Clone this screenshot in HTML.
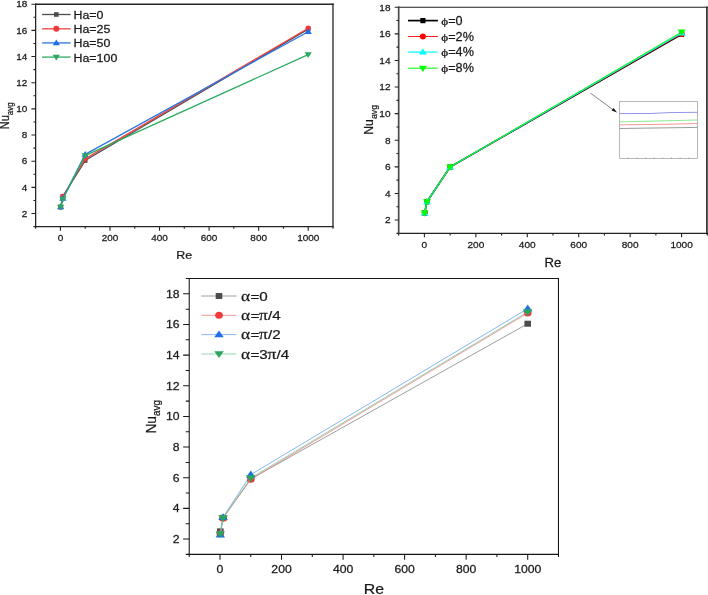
<!DOCTYPE html>
<html lang="en"><head><meta charset="utf-8"><title>Nu avg vs Re</title>
<style>html,body{margin:0;padding:0;background:#fff;}svg{display:block;}text{stroke:#1a1a1a;stroke-width:0.25px;}</style></head><body>
<svg width="708" height="595" viewBox="0 0 708 595">
<rect width="708" height="595" fill="#fff"/>
<g font-family='"Liberation Sans", sans-serif'>
<line x1="35.62" y1="4.23" x2="332.98" y2="4.23" stroke="#242424" stroke-width="1.3" stroke-linecap="square"/>
<line x1="332.98" y1="4.23" x2="332.98" y2="226.59" stroke="#242424" stroke-width="1.3" stroke-linecap="square"/>
<line x1="35.62" y1="226.59" x2="332.98" y2="226.59" stroke="#242424" stroke-width="1.3" stroke-linecap="square"/>
<line x1="35.62" y1="4.23" x2="35.62" y2="226.59" stroke="#242424" stroke-width="1.3" stroke-linecap="square"/>
<path d="M35.62,226.59v2.2M60.40,226.59v4.2M85.18,226.59v2.2M109.96,226.59v4.2M134.74,226.59v2.2M159.52,226.59v4.2M184.30,226.59v2.2M209.08,226.59v4.2M233.86,226.59v2.2M258.64,226.59v4.2M283.42,226.59v2.2M308.20,226.59v4.2M332.98,226.59v2.2M35.62,226.59h-2.2M35.62,213.51h-4.2M35.62,200.43h-2.2M35.62,187.35h-4.2M35.62,174.27h-2.2M35.62,161.19h-4.2M35.62,148.11h-2.2M35.62,135.03h-4.2M35.62,121.95h-2.2M35.62,108.87h-4.2M35.62,95.79h-2.2M35.62,82.71h-4.2M35.62,69.63h-2.2M35.62,56.55h-4.2M35.62,43.47h-2.2M35.62,30.39h-4.2M35.62,17.31h-2.2M35.62,4.23h-4.2" stroke="#242424" stroke-width="1.1" fill="none"/>
<text transform="translate(60.40,241.30) scale(1.06,1)" font-size="9.4" text-anchor="middle" fill="#1a1a1a" >0</text>
<text transform="translate(109.96,241.30) scale(1.06,1)" font-size="9.4" text-anchor="middle" fill="#1a1a1a" >200</text>
<text transform="translate(159.52,241.30) scale(1.06,1)" font-size="9.4" text-anchor="middle" fill="#1a1a1a" >400</text>
<text transform="translate(209.08,241.30) scale(1.06,1)" font-size="9.4" text-anchor="middle" fill="#1a1a1a" >600</text>
<text transform="translate(258.64,241.30) scale(1.06,1)" font-size="9.4" text-anchor="middle" fill="#1a1a1a" >800</text>
<text transform="translate(308.20,241.30) scale(1.06,1)" font-size="9.4" text-anchor="middle" fill="#1a1a1a" >1000</text>
<text transform="translate(27.40,216.71) scale(1.06,1)" font-size="9.4" text-anchor="end" fill="#1a1a1a" >2</text>
<text transform="translate(27.40,190.55) scale(1.06,1)" font-size="9.4" text-anchor="end" fill="#1a1a1a" >4</text>
<text transform="translate(27.40,164.39) scale(1.06,1)" font-size="9.4" text-anchor="end" fill="#1a1a1a" >6</text>
<text transform="translate(27.40,138.23) scale(1.06,1)" font-size="9.4" text-anchor="end" fill="#1a1a1a" >8</text>
<text transform="translate(27.40,112.07) scale(1.06,1)" font-size="9.4" text-anchor="end" fill="#1a1a1a" >10</text>
<text transform="translate(27.40,85.91) scale(1.06,1)" font-size="9.4" text-anchor="end" fill="#1a1a1a" >12</text>
<text transform="translate(27.40,59.75) scale(1.06,1)" font-size="9.4" text-anchor="end" fill="#1a1a1a" >14</text>
<text transform="translate(27.40,33.59) scale(1.06,1)" font-size="9.4" text-anchor="end" fill="#1a1a1a" >16</text>
<text transform="translate(27.40,7.43) scale(1.06,1)" font-size="9.4" text-anchor="end" fill="#1a1a1a" >18</text>
<text transform="translate(184.30,258.90) scale(1.12,1)" font-size="11.1" text-anchor="middle" fill="#1a1a1a" >Re</text>
<text transform="translate(9.10,129.20) scale(1.08,1) rotate(-90)" font-size="11" fill="#1a1a1a" text-anchor="start">Nu<tspan font-size="7.92" dy="3.52">avg</tspan></text>
<polyline points="60.65,206.97 62.88,196.38 85.18,160.54 308.20,29.08" fill="none" stroke="#4d4d4d" stroke-width="1.3" stroke-linejoin="round"/>
<rect x="58.35" y="204.67" width="4.60" height="4.60" fill="#4d4d4d"/>
<rect x="60.58" y="194.08" width="4.60" height="4.60" fill="#4d4d4d"/>
<rect x="82.88" y="158.24" width="4.60" height="4.60" fill="#4d4d4d"/>
<rect x="305.90" y="26.78" width="4.60" height="4.60" fill="#4d4d4d"/>
<polyline points="60.65,206.97 62.88,196.51 85.18,158.84 308.20,28.30" fill="none" stroke="#f0413f" stroke-width="1.3" stroke-linejoin="round"/>
<circle cx="60.65" cy="206.97" r="2.70" fill="#f03a3a"/>
<circle cx="62.88" cy="196.51" r="2.70" fill="#f03a3a"/>
<circle cx="85.18" cy="158.84" r="2.70" fill="#f03a3a"/>
<circle cx="308.20" cy="28.30" r="2.70" fill="#f03a3a"/>
<polyline points="60.65,206.97 62.88,198.47 85.18,154.39 308.20,31.70" fill="none" stroke="#2a76e4" stroke-width="1.3" stroke-linejoin="round"/>
<polygon points="60.65,203.55 64.25,209.25 57.05,209.25" fill="#1f6fe6"/>
<polygon points="62.88,195.05 66.48,200.75 59.28,200.75" fill="#1f6fe6"/>
<polygon points="85.18,150.97 88.78,156.67 81.58,156.67" fill="#1f6fe6"/>
<polygon points="308.20,28.28 311.80,33.98 304.60,33.98" fill="#1f6fe6"/>
<polyline points="60.65,206.97 62.88,199.12 85.18,155.57 308.20,54.59" fill="none" stroke="#2cab62" stroke-width="1.3" stroke-linejoin="round"/>
<polygon points="60.65,210.39 64.25,204.69 57.05,204.69" fill="#2aa860"/>
<polygon points="62.88,202.54 66.48,196.84 59.28,196.84" fill="#2aa860"/>
<polygon points="85.18,158.99 88.78,153.29 81.58,153.29" fill="#2aa860"/>
<polygon points="308.20,58.01 311.80,52.31 304.60,52.31" fill="#2aa860"/>
<line x1="42.1" x2="70.6" y1="14.5" y2="14.5" stroke="#4d4d4d" stroke-width="1.3"/>
<rect x="54.00" y="12.20" width="4.60" height="4.60" fill="#4d4d4d"/>
<text transform="translate(73.50,18.90) scale(1.13,1)" font-size="11.0" text-anchor="start" fill="#1a1a1a" >Ha=0</text>
<line x1="42.1" x2="70.6" y1="28.8" y2="28.8" stroke="#f0413f" stroke-width="1.3"/>
<circle cx="56.30" cy="28.80" r="3.00" fill="#f03a3a"/>
<text transform="translate(73.50,33.20) scale(1.13,1)" font-size="11.0" text-anchor="start" fill="#1a1a1a" >Ha=25</text>
<line x1="42.1" x2="70.6" y1="42.9" y2="42.9" stroke="#2a76e4" stroke-width="1.3"/>
<polygon points="56.30,39.48 59.90,45.18 52.70,45.18" fill="#1f6fe6"/>
<text transform="translate(73.50,47.30) scale(1.13,1)" font-size="11.0" text-anchor="start" fill="#1a1a1a" >Ha=50</text>
<line x1="42.1" x2="70.6" y1="57.1" y2="57.1" stroke="#2cab62" stroke-width="1.3"/>
<polygon points="56.30,60.52 59.90,54.82 52.70,54.82" fill="#2aa860"/>
<text transform="translate(73.50,61.50) scale(1.13,1)" font-size="11.0" text-anchor="start" fill="#1a1a1a" >Ha=100</text>
</g>
<g font-family='"Liberation Sans", sans-serif'>
<line x1="398.68" y1="7.25" x2="707.32" y2="7.25" stroke="#222" stroke-width="1.0" stroke-linecap="square"/>
<line x1="706.92" y1="7.25" x2="706.92" y2="233.35" stroke="#222" stroke-width="1.6" stroke-linecap="square"/>
<line x1="398.68" y1="233.35" x2="707.32" y2="233.35" stroke="#222" stroke-width="1.1" stroke-linecap="square"/>
<line x1="398.68" y1="7.25" x2="398.68" y2="233.35" stroke="#4a4a4a" stroke-width="1.7" stroke-linecap="square"/>
<path d="M398.68,233.35v2.2M424.40,233.35v4M450.12,233.35v2.2M475.84,233.35v4M501.56,233.35v2.2M527.28,233.35v4M553.00,233.35v2.2M578.72,233.35v4M604.44,233.35v2.2M630.16,233.35v4M655.88,233.35v2.2M681.60,233.35v4M707.32,233.35v2.2M398.68,233.35h-2.2M398.68,220.05h-4M398.68,206.75h-2.2M398.68,193.45h-4M398.68,180.15h-2.2M398.68,166.85h-4M398.68,153.55h-2.2M398.68,140.25h-4M398.68,126.95h-2.2M398.68,113.65h-4M398.68,100.35h-2.2M398.68,87.05h-4M398.68,73.75h-2.2M398.68,60.45h-4M398.68,47.15h-2.2M398.68,33.85h-4M398.68,20.55h-2.2M398.68,7.25h-4" stroke="#222" stroke-width="1.1" fill="none"/>
<text transform="translate(424.40,248.30) scale(1.03,1)" font-size="9.8" text-anchor="middle" fill="#1a1a1a" >0</text>
<text transform="translate(475.84,248.30) scale(1.03,1)" font-size="9.8" text-anchor="middle" fill="#1a1a1a" >200</text>
<text transform="translate(527.28,248.30) scale(1.03,1)" font-size="9.8" text-anchor="middle" fill="#1a1a1a" >400</text>
<text transform="translate(578.72,248.30) scale(1.03,1)" font-size="9.8" text-anchor="middle" fill="#1a1a1a" >600</text>
<text transform="translate(630.16,248.30) scale(1.03,1)" font-size="9.8" text-anchor="middle" fill="#1a1a1a" >800</text>
<text transform="translate(681.60,248.30) scale(1.03,1)" font-size="9.8" text-anchor="middle" fill="#1a1a1a" >1000</text>
<text transform="translate(390.50,223.45) scale(1.03,1)" font-size="9.8" text-anchor="end" fill="#1a1a1a" >2</text>
<text transform="translate(390.50,196.85) scale(1.03,1)" font-size="9.8" text-anchor="end" fill="#1a1a1a" >4</text>
<text transform="translate(390.50,170.25) scale(1.03,1)" font-size="9.8" text-anchor="end" fill="#1a1a1a" >6</text>
<text transform="translate(390.50,143.65) scale(1.03,1)" font-size="9.8" text-anchor="end" fill="#1a1a1a" >8</text>
<text transform="translate(390.50,117.05) scale(1.03,1)" font-size="9.8" text-anchor="end" fill="#1a1a1a" >10</text>
<text transform="translate(390.50,90.45) scale(1.03,1)" font-size="9.8" text-anchor="end" fill="#1a1a1a" >12</text>
<text transform="translate(390.50,63.85) scale(1.03,1)" font-size="9.8" text-anchor="end" fill="#1a1a1a" >14</text>
<text transform="translate(390.50,37.25) scale(1.03,1)" font-size="9.8" text-anchor="end" fill="#1a1a1a" >16</text>
<text transform="translate(390.50,10.65) scale(1.03,1)" font-size="9.8" text-anchor="end" fill="#1a1a1a" >18</text>
<text transform="translate(553.00,266.90) scale(1.06,1)" font-size="12.4" text-anchor="middle" fill="#1a1a1a" >Re</text>
<text transform="translate(373.20,134.70) scale(1.0,1) rotate(-90)" font-size="12.2" fill="#1a1a1a" text-anchor="start">Nu<tspan font-size="8.78" dy="3.90">avg</tspan></text>
<polyline points="424.66,213.00 426.97,201.70 450.12,166.98 681.60,34.25" fill="none" stroke="#000" stroke-width="1.7" stroke-linejoin="round"/>
<rect x="422.06" y="210.40" width="5.20" height="5.20" fill="#000"/>
<rect x="424.37" y="199.10" width="5.20" height="5.20" fill="#000"/>
<rect x="447.52" y="164.38" width="5.20" height="5.20" fill="#000"/>
<rect x="679.00" y="31.65" width="5.20" height="5.20" fill="#000"/>
<polyline points="424.66,213.00 426.97,201.70 450.12,166.98 681.60,33.98" fill="none" stroke="#ff0000" stroke-width="0.9" stroke-linejoin="round"/>
<circle cx="424.66" cy="213.00" r="3.00" fill="#ff0000"/>
<circle cx="426.97" cy="201.70" r="3.00" fill="#ff0000"/>
<circle cx="450.12" cy="166.98" r="3.00" fill="#ff0000"/>
<circle cx="681.60" cy="33.98" r="3.00" fill="#ff0000"/>
<polyline points="424.66,213.00 426.97,201.70 450.12,166.98 681.60,33.05" fill="none" stroke="#00ffff" stroke-width="1.2" stroke-linejoin="round"/>
<polygon points="424.66,209.24 428.62,215.51 420.70,215.51" fill="#00ffff"/>
<polygon points="426.97,197.93 430.93,204.20 423.01,204.20" fill="#00ffff"/>
<polygon points="450.12,163.22 454.08,169.49 446.16,169.49" fill="#00ffff"/>
<polygon points="681.60,29.29 685.56,35.56 677.64,35.56" fill="#00ffff"/>
<polyline points="424.66,213.00 426.97,201.70 450.12,166.98 681.60,32.05" fill="none" stroke="#00ff00" stroke-width="1.0" stroke-linejoin="round"/>
<polygon points="424.66,216.76 428.62,210.49 420.70,210.49" fill="#00ff00"/>
<polygon points="426.97,205.46 430.93,199.19 423.01,199.19" fill="#00ff00"/>
<polygon points="450.12,170.75 454.08,164.47 446.16,164.47" fill="#00ff00"/>
<polygon points="681.60,35.82 685.56,29.55 677.64,29.55" fill="#00ff00"/>
<line x1="408" x2="437.9" y1="20.6" y2="20.6" stroke="#000" stroke-width="1.7"/>
<rect x="420.30" y="18.00" width="5.20" height="5.20" fill="#000"/>
<text transform="translate(441.20,24.80) scale(1.24,1)" font-size="10.6" text-anchor="start" fill="#1a1a1a" font-family='"Liberation Serif", serif'>ϕ</text><text transform="translate(448.22,24.80) scale(1.02,1)" font-size="12.4" text-anchor="start" fill="#1a1a1a" font-family='"Liberation Sans", sans-serif'>=0</text>
<line x1="408" x2="437.9" y1="36.5" y2="36.5" stroke="#ff0000" stroke-width="0.9"/>
<circle cx="422.90" cy="36.50" r="3.00" fill="#ff0000"/>
<text transform="translate(441.20,40.70) scale(1.24,1)" font-size="10.6" text-anchor="start" fill="#1a1a1a" font-family='"Liberation Serif", serif'>ϕ</text><text transform="translate(448.22,40.70) scale(1.02,1)" font-size="12.4" text-anchor="start" fill="#1a1a1a" font-family='"Liberation Sans", sans-serif'>=2%</text>
<line x1="408" x2="437.9" y1="52.1" y2="52.1" stroke="#00ffff" stroke-width="1.2"/>
<polygon points="422.90,48.34 426.86,54.61 418.94,54.61" fill="#00ffff"/>
<text transform="translate(441.20,56.30) scale(1.24,1)" font-size="10.6" text-anchor="start" fill="#1a1a1a" font-family='"Liberation Serif", serif'>ϕ</text><text transform="translate(448.22,56.30) scale(1.02,1)" font-size="12.4" text-anchor="start" fill="#1a1a1a" font-family='"Liberation Sans", sans-serif'>=4%</text>
<line x1="408" x2="437.9" y1="68.2" y2="68.2" stroke="#00ff00" stroke-width="1.0"/>
<polygon points="422.90,71.96 426.86,65.69 418.94,65.69" fill="#00ff00"/>
<text transform="translate(441.20,72.40) scale(1.24,1)" font-size="10.6" text-anchor="start" fill="#1a1a1a" font-family='"Liberation Serif", serif'>ϕ</text><text transform="translate(448.22,72.40) scale(1.02,1)" font-size="12.4" text-anchor="start" fill="#1a1a1a" font-family='"Liberation Sans", sans-serif'>=8%</text>
<rect x="619.7" y="101.5" width="77.7" height="57.1" fill="#fff" stroke="#8a8a8a" stroke-width="0.6"/><path d="M619.7,113.6 L650,113.5 L670,112.6 L697.4,112.3" stroke="#4a4ae0" stroke-width="0.6" fill="none"/><path d="M619.7,121.9 L697.4,120" stroke="#3fdc50" stroke-width="0.6" fill="none"/><path d="M619.7,124.8 L660,124.4 L697.4,123.5" stroke="#f05050" stroke-width="0.6" fill="none"/><path d="M619.7,128.5 L697.4,127.4" stroke="#555" stroke-width="0.6" fill="none"/><line x1="590.5" y1="93.2" x2="614.5" y2="110.8" stroke="#333" stroke-width="0.6"/><polygon points="617.1,112.6 611.6,110.6 613.5,108.0" fill="#111"/><path d="M628.33,158.6v-1.2M636.96,158.6v-1.2M645.59,158.6v-1.2M654.22,158.6v-1.2M662.85,158.6v-1.2M671.48,158.6v-1.2M680.11,158.6v-1.2M688.74,158.6v-1.2" stroke="#8a8a8a" stroke-width="0.6" fill="none"/>
</g>
<g font-family='"Liberation Sans", sans-serif'>
<line x1="189.23" y1="278.50" x2="558.47" y2="278.50" stroke="#151515" stroke-width="1.05" stroke-linecap="square"/>
<line x1="558.47" y1="278.50" x2="558.47" y2="554.35" stroke="#151515" stroke-width="1.05" stroke-linecap="square"/>
<line x1="189.23" y1="554.35" x2="558.47" y2="554.35" stroke="#151515" stroke-width="1.05" stroke-linecap="square"/>
<line x1="189.23" y1="278.50" x2="189.23" y2="554.35" stroke="#151515" stroke-width="1.05" stroke-linecap="square"/>
<path d="M189.23,554.35v2.6M220.00,554.35v5.5M250.77,554.35v2.6M281.54,554.35v5.5M312.31,554.35v2.6M343.08,554.35v5.5M373.85,554.35v2.6M404.62,554.35v5.5M435.39,554.35v2.6M466.16,554.35v5.5M496.93,554.35v2.6M527.70,554.35v5.5M558.47,554.35v2.6M189.23,554.35h-3.4M189.23,539.02h-6.1M189.23,523.70h-3.4M189.23,508.38h-6.1M189.23,493.05h-3.4M189.23,477.73h-6.1M189.23,462.40h-3.4M189.23,447.07h-6.1M189.23,431.75h-3.4M189.23,416.42h-6.1M189.23,401.10h-3.4M189.23,385.77h-6.1M189.23,370.45h-3.4M189.23,355.12h-6.1M189.23,339.80h-3.4M189.23,324.48h-6.1M189.23,309.15h-3.4M189.23,293.82h-6.1M189.23,278.50h-3.4" stroke="#151515" stroke-width="1.05" fill="none"/>
<text transform="translate(220.00,572.70) scale(1.13,1)" font-size="10.8" text-anchor="middle" fill="#1a1a1a" >0</text>
<text transform="translate(281.54,572.70) scale(1.13,1)" font-size="10.8" text-anchor="middle" fill="#1a1a1a" >200</text>
<text transform="translate(343.08,572.70) scale(1.13,1)" font-size="10.8" text-anchor="middle" fill="#1a1a1a" >400</text>
<text transform="translate(404.62,572.70) scale(1.13,1)" font-size="10.8" text-anchor="middle" fill="#1a1a1a" >600</text>
<text transform="translate(466.16,572.70) scale(1.13,1)" font-size="10.8" text-anchor="middle" fill="#1a1a1a" >800</text>
<text transform="translate(527.70,572.70) scale(1.13,1)" font-size="10.8" text-anchor="middle" fill="#1a1a1a" >1000</text>
<text transform="translate(179.50,542.82) scale(1.13,1)" font-size="10.8" text-anchor="end" fill="#1a1a1a" >2</text>
<text transform="translate(179.50,512.17) scale(1.13,1)" font-size="10.8" text-anchor="end" fill="#1a1a1a" >4</text>
<text transform="translate(179.50,481.53) scale(1.13,1)" font-size="10.8" text-anchor="end" fill="#1a1a1a" >6</text>
<text transform="translate(179.50,450.88) scale(1.13,1)" font-size="10.8" text-anchor="end" fill="#1a1a1a" >8</text>
<text transform="translate(179.50,420.22) scale(1.13,1)" font-size="10.8" text-anchor="end" fill="#1a1a1a" >10</text>
<text transform="translate(179.50,389.57) scale(1.13,1)" font-size="10.8" text-anchor="end" fill="#1a1a1a" >12</text>
<text transform="translate(179.50,358.93) scale(1.13,1)" font-size="10.8" text-anchor="end" fill="#1a1a1a" >14</text>
<text transform="translate(179.50,328.28) scale(1.13,1)" font-size="10.8" text-anchor="end" fill="#1a1a1a" >16</text>
<text transform="translate(179.50,297.62) scale(1.13,1)" font-size="10.8" text-anchor="end" fill="#1a1a1a" >18</text>
<text transform="translate(373.85,594.30) scale(1.135,1)" font-size="14.0" text-anchor="middle" fill="#1a1a1a" >Re</text>
<text transform="translate(155.60,433.60) scale(1.1,1) rotate(-90)" font-size="13.8" fill="#1a1a1a" text-anchor="start">Nu<tspan font-size="9.94" dy="4.42">avg</tspan></text>
<polyline points="220.31,531.36 223.08,517.88 250.77,478.95 527.70,323.71" fill="none" stroke="#858585" stroke-width="0.8" stroke-linejoin="round"/>
<g transform="translate(220.31,531.36) scale(1.1,1) translate(-220.31,-531.36)"><rect x="217.31" y="528.36" width="6.00" height="6.00" fill="#4d4d4d"/></g>
<g transform="translate(223.08,517.88) scale(1.1,1) translate(-223.08,-517.88)"><rect x="220.08" y="514.88" width="6.00" height="6.00" fill="#4d4d4d"/></g>
<g transform="translate(250.77,478.95) scale(1.1,1) translate(-250.77,-478.95)"><rect x="247.77" y="475.95" width="6.00" height="6.00" fill="#4d4d4d"/></g>
<g transform="translate(527.70,323.71) scale(1.1,1) translate(-527.70,-323.71)"><rect x="524.70" y="320.71" width="6.00" height="6.00" fill="#4d4d4d"/></g>
<polyline points="220.31,533.66 223.08,518.18 250.77,479.26 527.70,312.98" fill="none" stroke="#f37c7c" stroke-width="0.8" stroke-linejoin="round"/>
<g transform="translate(220.31,533.66) scale(1.1,1) translate(-220.31,-533.66)"><circle cx="220.31" cy="533.66" r="3.50" fill="#f03a3e"/></g>
<g transform="translate(223.08,518.18) scale(1.1,1) translate(-223.08,-518.18)"><circle cx="223.08" cy="518.18" r="3.50" fill="#f03a3e"/></g>
<g transform="translate(250.77,479.26) scale(1.1,1) translate(-250.77,-479.26)"><circle cx="250.77" cy="479.26" r="3.50" fill="#f03a3e"/></g>
<g transform="translate(527.70,312.98) scale(1.1,1) translate(-527.70,-312.98)"><circle cx="527.70" cy="312.98" r="3.50" fill="#f03a3e"/></g>
<polyline points="220.31,534.73 223.08,517.26 250.77,474.66 527.70,308.69" fill="none" stroke="#6aa2f0" stroke-width="0.8" stroke-linejoin="round"/>
<g transform="translate(220.31,534.73) scale(1.1,1) translate(-220.31,-534.73)"><polygon points="220.31,530.63 224.63,537.47 215.99,537.47" fill="#1f6fe6"/></g>
<g transform="translate(223.08,517.26) scale(1.1,1) translate(-223.08,-517.26)"><polygon points="223.08,513.16 227.40,520.00 218.76,520.00" fill="#1f6fe6"/></g>
<g transform="translate(250.77,474.66) scale(1.1,1) translate(-250.77,-474.66)"><polygon points="250.77,470.56 255.09,477.40 246.45,477.40" fill="#1f6fe6"/></g>
<g transform="translate(527.70,308.69) scale(1.1,1) translate(-527.70,-308.69)"><polygon points="527.70,304.59 532.02,311.43 523.38,311.43" fill="#1f6fe6"/></g>
<polyline points="220.31,533.97 223.08,517.88 250.77,478.03 527.70,311.91" fill="none" stroke="#78cc9c" stroke-width="0.8" stroke-linejoin="round"/>
<g transform="translate(220.31,533.97) scale(1.1,1) translate(-220.31,-533.97)"><polygon points="220.31,538.07 224.63,531.23 215.99,531.23" fill="#2ca560"/></g>
<g transform="translate(223.08,517.88) scale(1.1,1) translate(-223.08,-517.88)"><polygon points="223.08,521.98 227.40,515.14 218.76,515.14" fill="#2ca560"/></g>
<g transform="translate(250.77,478.03) scale(1.1,1) translate(-250.77,-478.03)"><polygon points="250.77,482.14 255.09,475.30 246.45,475.30" fill="#2ca560"/></g>
<g transform="translate(527.70,311.91) scale(1.1,1) translate(-527.70,-311.91)"><polygon points="527.70,316.01 532.02,309.17 523.38,309.17" fill="#2ca560"/></g>
<line x1="201.4" x2="236.4" y1="296" y2="296" stroke="#858585" stroke-width="0.8"/>
<g transform="translate(219.00,296.00) scale(1.1,1) translate(-219.00,-296.00)"><rect x="216.00" y="293.00" width="6.00" height="6.00" fill="#4d4d4d"/></g>
<text transform="translate(240.95,300.80) scale(1.145,1)" font-size="15.1" text-anchor="start" fill="#1a1a1a" font-family='"Liberation Serif", serif'>α</text><text transform="translate(250.41,300.80) scale(1.15,1)" font-size="13.2" text-anchor="start" fill="#1a1a1a" font-family='"Liberation Sans", sans-serif'>=0</text>
<line x1="201.4" x2="236.4" y1="315.3" y2="315.3" stroke="#f37c7c" stroke-width="0.8"/>
<g transform="translate(219.00,315.30) scale(1.1,1) translate(-219.00,-315.30)"><circle cx="219.00" cy="315.30" r="3.50" fill="#f03a3e"/></g>
<text transform="translate(240.95,320.10) scale(1.145,1)" font-size="15.1" text-anchor="start" fill="#1a1a1a" font-family='"Liberation Serif", serif'>α</text><text transform="translate(250.41,320.10) scale(1.15,1)" font-size="13.2" text-anchor="start" fill="#1a1a1a" font-family='"Liberation Sans", sans-serif'>=</text><text transform="translate(259.07,320.10) scale(1.145,1)" font-size="15.1" text-anchor="start" fill="#1a1a1a" font-family='"Liberation Serif", serif'>π</text><text transform="translate(268.10,320.10) scale(1.15,1)" font-size="13.2" text-anchor="start" fill="#1a1a1a" font-family='"Liberation Sans", sans-serif'>/4</text>
<line x1="201.4" x2="236.4" y1="334.6" y2="334.6" stroke="#6aa2f0" stroke-width="0.8"/>
<g transform="translate(219.00,334.60) scale(1.1,1) translate(-219.00,-334.60)"><polygon points="219.00,330.50 223.32,337.34 214.68,337.34" fill="#1f6fe6"/></g>
<text transform="translate(240.95,339.40) scale(1.145,1)" font-size="15.1" text-anchor="start" fill="#1a1a1a" font-family='"Liberation Serif", serif'>α</text><text transform="translate(250.41,339.40) scale(1.15,1)" font-size="13.2" text-anchor="start" fill="#1a1a1a" font-family='"Liberation Sans", sans-serif'>=</text><text transform="translate(259.07,339.40) scale(1.145,1)" font-size="15.1" text-anchor="start" fill="#1a1a1a" font-family='"Liberation Serif", serif'>π</text><text transform="translate(268.10,339.40) scale(1.15,1)" font-size="13.2" text-anchor="start" fill="#1a1a1a" font-family='"Liberation Sans", sans-serif'>/2</text>
<line x1="201.4" x2="236.4" y1="354" y2="354" stroke="#78cc9c" stroke-width="0.8"/>
<g transform="translate(219.00,354.00) scale(1.1,1) translate(-219.00,-354.00)"><polygon points="219.00,358.10 223.32,351.26 214.68,351.26" fill="#2ca560"/></g>
<text transform="translate(240.95,358.80) scale(1.145,1)" font-size="15.1" text-anchor="start" fill="#1a1a1a" font-family='"Liberation Serif", serif'>α</text><text transform="translate(250.41,358.80) scale(1.15,1)" font-size="13.2" text-anchor="start" fill="#1a1a1a" font-family='"Liberation Sans", sans-serif'>=3</text><text transform="translate(267.52,358.80) scale(1.145,1)" font-size="15.1" text-anchor="start" fill="#1a1a1a" font-family='"Liberation Serif", serif'>π</text><text transform="translate(276.54,358.80) scale(1.15,1)" font-size="13.2" text-anchor="start" fill="#1a1a1a" font-family='"Liberation Sans", sans-serif'>/4</text>
</g>
</svg></body></html>
